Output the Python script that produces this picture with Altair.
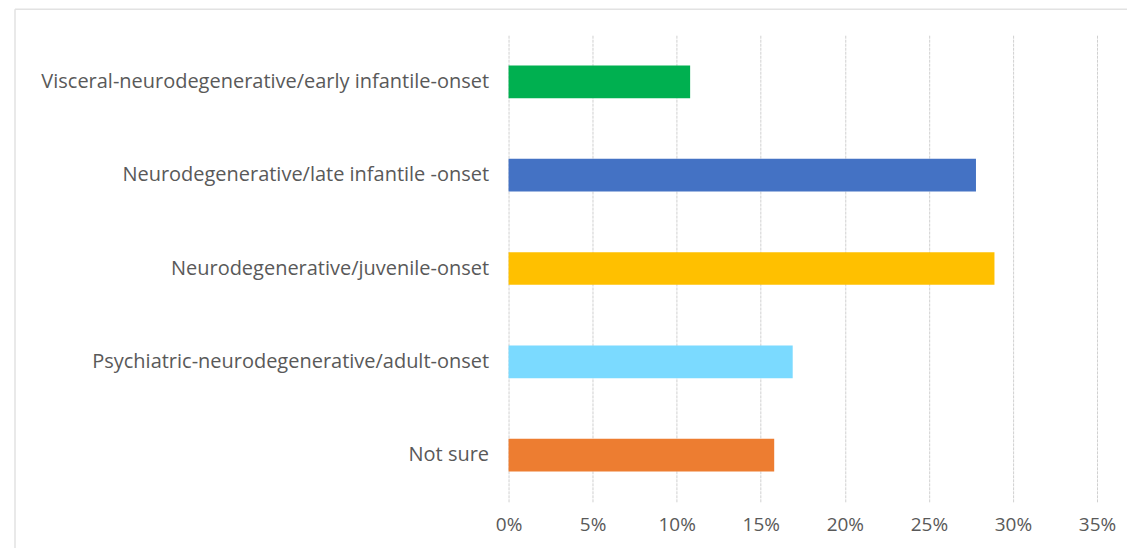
import altair as alt
import pandas as pd

categories = [
    "Visceral-neurodegenerative/early infantile-onset",
    "Neurodegenerative/late infantile -onset",
    "Neurodegenerative/juvenile-onset",
    "Psychiatric-neurodegenerative/adult-onset",
    "Not sure",
]
values = [0.108, 0.278, 0.289, 0.169, 0.158]
colors = ["#00B050", "#4472C4", "#FFC000", "#7BDAFF", "#ED7D31"]
tick_values = [0, 0.05, 0.1, 0.15, 0.2, 0.25, 0.3, 0.35]

df = pd.DataFrame({"category": categories, "value": values, "color": colors})

FONT = "Open Sans"
TEXT_COLOR = "#595959"
FRAME_COLOR = "#E2E2E2"

# light frame edges around the chart area (decoration: top and left only)
one = pd.DataFrame({"k": [0]})
frame_top = alt.Chart(one).mark_rule(stroke=FRAME_COLOR, strokeWidth=1.5).encode(
    x=alt.value(-494), x2=alt.value(700), y=alt.value(-26),
)
frame_left = alt.Chart(one).mark_rule(stroke=FRAME_COLOR, strokeWidth=1.5).encode(
    x=alt.value(-494), y=alt.value(-26), y2=alt.value(560),
)

bars = alt.Chart(df).mark_bar().encode(
    y=alt.Y("category:N", sort=categories, title=None,
            scale=alt.Scale(paddingInner=0.65, paddingOuter=0.325),
            axis=alt.Axis(labelFont=FONT, labelFontSize=20, labelColor=TEXT_COLOR,
                          labelPadding=20, ticks=False, domain=False, grid=False,
                          labelLimit=700)),
    x=alt.X("value:Q", title=None,
            scale=alt.Scale(domain=[0, 0.35], nice=False),
            axis=alt.Axis(format=".0%", values=tick_values, labelFlush=False,
                          labelFont=FONT, labelFontSize=19, labelColor=TEXT_COLOR,
                          labelPadding=14, ticks=False, domain=False,
                          grid=True, gridColor="#D0D0D0", gridDash=[3, 1], gridWidth=1)),
    color=alt.Color("color:N", scale=None, legend=None),
)

chart = alt.layer(frame_top, frame_left, bars).properties(
    width=589, height=467,
    background="white",
    autosize=alt.AutoSizeParams(type="none"),
    padding={"left": 501, "top": 27, "right": 30, "bottom": 46},
).configure_view(stroke=None)

chart.save("out.html", embed_options={"renderer": "svg", "actions": False})
